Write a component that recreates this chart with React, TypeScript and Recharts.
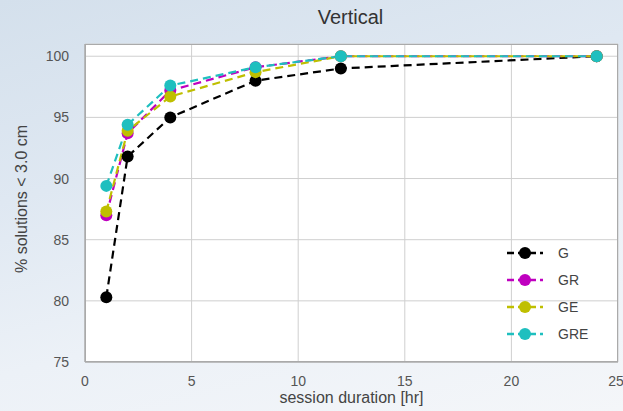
import React from "react";
import { LineChart, Line, XAxis, YAxis, CartesianGrid } from "recharts";

const hours = [1, 2, 4, 8, 12, 24];
const gVals = [80.3, 91.8, 95.0, 98.0, 99.0, 100.0];
const grVals = [87.0, 93.7, 97.2, 99.1, 100.0, 100.0];
const geVals = [87.3, 93.9, 96.7, 98.7, 100.0, 100.0];
const greVals = [89.4, 94.4, 97.6, 99.1, 100.0, 100.0];
const xTicks = [0, 5, 10, 15, 20, 25];
const yTicks = [75, 80, 85, 90, 95, 100];

const series = [
  { key: "G", color: "#000000" },
  { key: "GR", color: "#bf00bf" },
  { key: "GE", color: "#bfbf00" },
  { key: "GRE", color: "#1fbfbf" },
];

const data = hours.map((h, i) => ({
  hr: h,
  G: gVals[i],
  GR: grVals[i],
  GE: geVals[i],
  GRE: greVals[i],
}));

const FONT = "'Liberation Sans', Arial, sans-serif";

function LegendBox() {
  return (
    <div style={{ position: "absolute", left: 505, top: 239, width: 110, fontFamily: FONT, fontSize: 14, color: "#444" }}>
      {series.map((s) => (
        <div key={s.key} style={{ display: "flex", alignItems: "center", height: 27 }}>
          <svg width={40} height={16}>
            <line x1={2} y1={8} x2={38} y2={8} stroke={s.color} strokeWidth={2.5} strokeDasharray="7 4" />
            <circle cx={20} cy={8} r={6} fill={s.color} />
          </svg>
          <span style={{ marginLeft: 13 }}>{s.key}</span>
        </div>
      ))}
    </div>
  );
}

export default function App() {
  return (
    <div
      style={{
        position: "absolute",
        left: 0,
        top: 0,
        width: 623,
        height: 411,
        overflow: "hidden",
        background: "linear-gradient(165deg, #d4e0ec 0%, #dfe8f2 35%, #ecf1f7 65%, #f4f6f9 100%)",
        fontFamily: FONT,
      }}
    >
      <div style={{ position: "absolute", left: 0, width: 623, top: 6, textAlign: "center", paddingLeft: 78, boxSizing: "border-box", fontSize: 20, color: "#333" }}>
        Vertical
      </div>
      <LineChart width={623} height={411} data={data} margin={{ top: 44, right: 5, bottom: 0, left: 25 }}>
        <CartesianGrid stroke="#cfcfcf" strokeWidth={1} fill="#ffffff" />
        <XAxis
          dataKey="hr"
          type="number"
          domain={[0, 25]}
          ticks={xTicks}
          height={49}
          tickLine={false}
          axisLine={{ stroke: "#999" }}
          tickMargin={8}
          tick={{ fill: "#555", fontSize: 14, fontFamily: FONT }}
          label={{ value: "session duration [hr]", position: "insideBottom", offset: 8, fill: "#444", fontSize: 16, fontFamily: FONT }}
        />
        <YAxis
          type="number"
          domain={[75, 101]}
          ticks={yTicks}
          width={60}
          tickLine={false}
          axisLine={{ stroke: "#999" }}
          tickMargin={10}
          tick={{ fill: "#555", fontSize: 14, fontFamily: FONT }}
          label={{ value: "% solutions < 3.0 cm", angle: -90, position: "insideLeft", offset: -4, dy: 70, fill: "#444", fontSize: 16, fontFamily: FONT }}
        />
        {series.map((s) => (
          <Line
            key={s.key}
            dataKey={s.key}
            stroke={s.color}
            strokeWidth={2.2}
            strokeDasharray="8 5"
            dot={{ r: 6, fill: s.color, stroke: s.color, strokeWidth: 0 }}
            activeDot={false}
            isAnimationActive={false}
          />
        ))}
      </LineChart>
      <LegendBox />
      <div style={{ position: "absolute", left: 85, top: 44, width: 533, height: 318, border: "1px solid #aaa", boxSizing: "border-box", pointerEvents: "none" }} />
    </div>
  );
}
